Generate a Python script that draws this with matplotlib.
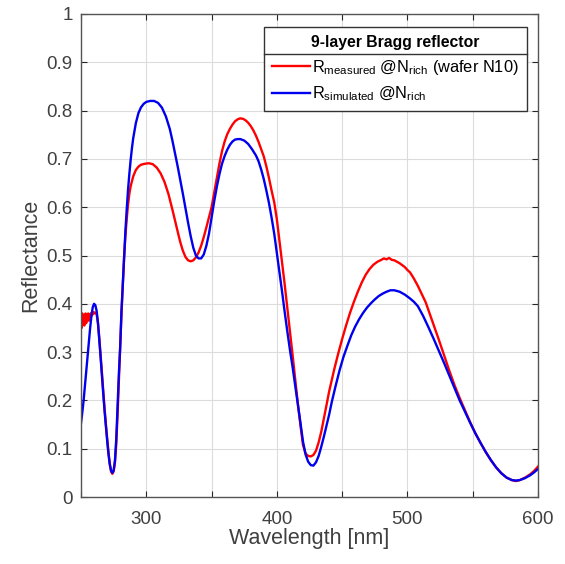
import numpy as np
import matplotlib
matplotlib.use('Agg')
from matplotlib import pyplot as plt
from matplotlib.lines import Line2D

plt.rcParams['font.family'] = ['Liberation Sans', 'DejaVu Sans']
plt.rcParams['mathtext.fontset'] = 'custom'
plt.rcParams['mathtext.rm'] = 'Liberation Sans'
plt.rcParams['mathtext.it'] = 'Liberation Sans'
plt.rcParams['xtick.direction'] = 'in'
plt.rcParams['ytick.direction'] = 'in'

#measured reflectance (red)
wl_meas = [250, 250.5, 251, 251.5, 252, 252.5, 253, 253.5, 254, 254.5, 255, 255.5, 256, 256.5,
           257, 257.5, 258, 258.5, 259, 259.5, 260, 261, 262,
           263, 264, 265, 266, 267, 268, 269, 270, 271, 272, 273, 274, 275, 276, 277, 278, 279, 280,
           281, 282, 283, 284, 285, 286, 287, 288, 290, 292, 294, 296, 299, 302, 305, 308, 311, 314,
           317, 320, 322, 324, 326, 328, 330, 332, 334, 336, 338, 340, 342, 344, 346, 348, 350, 352,
           354, 356, 358, 360, 362, 364, 366, 368, 370, 372, 374, 376, 378, 380, 382, 384, 386, 388,
           390, 392, 394, 396, 398, 400, 402, 404, 406, 408, 410, 412, 414, 416, 418, 420, 422, 424,
           426, 428, 430, 432, 434, 436, 438, 440, 442, 444, 447, 450, 453, 456, 459, 462, 465, 468,
           471, 474, 477, 480, 482, 484, 486, 488, 490, 492, 494, 496, 498, 500, 502, 505, 508, 511,
           514, 517, 520, 524, 528, 532, 536, 540, 544, 548, 552, 556, 560, 564, 568, 572, 576, 580,
           583, 586, 590, 594, 597, 600]
R_meas = [0.37, 0.35, 0.38, 0.36, 0.375, 0.355, 0.37, 0.38, 0.36, 0.375, 0.37, 0.38, 0.365, 0.378,
          0.372, 0.38, 0.375, 0.382, 0.378, 0.383, 0.38, 0.382, 0.378,
          0.36, 0.33, 0.295, 0.258, 0.22, 0.185, 0.152, 0.122, 0.094, 0.07, 0.053, 0.048, 0.053, 0.072,
          0.11, 0.17, 0.24, 0.31, 0.38, 0.44, 0.495, 0.54, 0.575, 0.605, 0.627, 0.643, 0.664, 0.677,
          0.684, 0.688, 0.69, 0.691, 0.689, 0.682, 0.67, 0.652, 0.627, 0.595, 0.572, 0.55, 0.528, 0.51,
          0.497, 0.49, 0.488, 0.49, 0.496, 0.506, 0.52, 0.538, 0.558, 0.579, 0.60, 0.63, 0.66, 0.69,
          0.716, 0.736, 0.751, 0.762, 0.771, 0.778, 0.782, 0.784, 0.783, 0.78, 0.775, 0.768, 0.759,
          0.748, 0.735, 0.72, 0.705, 0.684, 0.66, 0.634, 0.61, 0.575, 0.53, 0.485, 0.44, 0.392, 0.345,
          0.295, 0.244, 0.195, 0.15, 0.108, 0.09, 0.085, 0.084, 0.087, 0.096, 0.113, 0.135, 0.162,
          0.19, 0.218, 0.242, 0.265, 0.297, 0.327, 0.355, 0.381, 0.404, 0.425, 0.444, 0.46, 0.472,
          0.481, 0.487, 0.491, 0.494, 0.492, 0.495, 0.491, 0.490, 0.487, 0.484, 0.480, 0.476, 0.470,
          0.465, 0.452, 0.437, 0.42, 0.403, 0.38, 0.357, 0.326, 0.294, 0.262, 0.232, 0.205, 0.18,
          0.155, 0.132, 0.112, 0.093, 0.076, 0.061, 0.049, 0.04, 0.035, 0.033, 0.035, 0.04, 0.047,
          0.054, 0.063]

#simulated reflectance (blue)
wl_sim = [250, 251, 252, 253, 254, 255, 256, 257, 258, 259, 260, 261, 262, 263, 264, 265, 266, 267,
          268, 269, 270, 271, 272, 273, 274, 275, 276, 277, 278, 279, 280, 281, 282, 283, 284, 285,
          286, 287, 288, 289, 290, 292, 294, 296, 298, 300, 303, 306, 309, 312, 315, 318, 320, 322,
          324, 326, 328, 330, 332, 334, 336, 338, 340, 342, 344, 346, 348, 350, 352, 354, 356, 358,
          360, 362, 364, 366, 368, 370, 372, 375, 378, 381, 384, 386, 388, 390, 392, 394, 396, 398,
          400, 402, 404, 406, 408, 410, 412, 414, 416, 418, 420, 422, 424, 426, 428, 430, 432, 434,
          436, 438, 440, 442, 445, 448, 451, 454, 457, 460, 463, 466, 469, 472, 475, 478, 481, 484,
          487, 490, 494, 498, 502, 505, 508, 512, 516, 520, 524, 528, 532, 536, 540, 544, 548, 552,
          556, 560, 564, 568, 572, 576, 580, 583, 586, 590, 594, 597, 600]
R_sim = [0.153, 0.175, 0.20, 0.23, 0.26, 0.29, 0.32, 0.35, 0.375, 0.393, 0.40, 0.397, 0.385, 0.36,
         0.325, 0.29, 0.252, 0.215, 0.18, 0.148, 0.118, 0.09, 0.068, 0.055, 0.05, 0.055, 0.075, 0.12,
         0.19, 0.255, 0.31, 0.385, 0.44, 0.495, 0.55, 0.595, 0.635, 0.668, 0.697, 0.722, 0.743, 0.774,
         0.795, 0.807, 0.814, 0.818, 0.82, 0.82, 0.816, 0.806, 0.788, 0.762, 0.738, 0.712, 0.685,
         0.657, 0.628, 0.598, 0.568, 0.54, 0.516, 0.50, 0.494, 0.494, 0.502, 0.52, 0.545, 0.578,
         0.612, 0.642, 0.668, 0.69, 0.706, 0.719, 0.729, 0.736, 0.74, 0.741, 0.741, 0.738, 0.731,
         0.72, 0.707, 0.695, 0.678, 0.658, 0.634, 0.608, 0.578, 0.545, 0.505, 0.465, 0.425, 0.383,
         0.343, 0.305, 0.27, 0.232, 0.195, 0.155, 0.115, 0.088, 0.073, 0.066, 0.065, 0.072, 0.085,
         0.104, 0.125, 0.148, 0.17, 0.196, 0.23, 0.262, 0.29, 0.313, 0.335, 0.353, 0.368, 0.381,
         0.392, 0.401, 0.409, 0.416, 0.421, 0.425, 0.428, 0.428, 0.425, 0.419, 0.411, 0.404, 0.395,
         0.375, 0.352, 0.328, 0.303, 0.278, 0.252, 0.226, 0.2, 0.177, 0.154, 0.132, 0.112, 0.093,
         0.076, 0.061, 0.049, 0.04, 0.035, 0.034, 0.035, 0.039, 0.045, 0.051, 0.058]

legend_title = '9-layer Bragg reflector'
lbl_meas = r'R$_{\mathrm{measured}}$ @N$_{\mathrm{rich}}$ (wafer N10)'
lbl_sim = r'R$_{\mathrm{simulated}}$ @N$_{\mathrm{rich}}$'

fig = plt.figure(figsize=(5.65, 5.64), dpi=100)
ax = fig.add_axes([81/565, 1-497/564, (538-81)/565, (497-14)/564])

ax.plot(wl_meas, R_meas, color='#ff0000', lw=1.7, label=lbl_meas)
ax.plot(wl_sim, R_sim, color='#0000ee', lw=1.7, label=lbl_sim)

ax.set_xlim(250, 600)
ax.set_ylim(0, 1)
ax.set_xticks(np.arange(250, 601, 50))
ax.set_xticklabels(['' if v % 100 else str(v) for v in range(250, 601, 50)])
ax.set_yticks(np.arange(0, 1.01, 0.1))
ax.set_yticklabels(['0', '0.1', '0.2', '0.3', '0.4', '0.5', '0.6', '0.7', '0.8', '0.9', '1'])
ax.tick_params(labelsize=13.5, colors='#262626', length=4, width=0.8, top=True, right=True)
ax.tick_params(axis='x', pad=10)
ax.tick_params(axis='y', pad=6)
ax.tick_params(labelcolor='#404040')
ax.grid(True, color='#dcdcdc', lw=0.8)
ax.set_axisbelow(True)
for s in ax.spines.values():
    s.set_color('#555555')
    s.set_linewidth(1.0)

ax.set_xlabel('Wavelength [nm]', fontsize=15.5, color='#404040', labelpad=0)
ax.set_ylabel('Reflectance', fontsize=15.5, color='#404040', labelpad=4)

leg = ax.legend(loc='upper right', bbox_to_anchor=(0.976, 0.973), fontsize=11.8,
                title=legend_title, title_fontproperties={'weight': 'bold', 'size': 11.3},
                frameon=True, fancybox=False, edgecolor='#333333', framealpha=1,
                handlelength=2.3, handletextpad=0.15, borderpad=0.5, labelspacing=0.47,
                borderaxespad=0)
leg.get_frame().set_linewidth(1.0)

#separator line under legend title
fig.canvas.draw()
r = fig.canvas.get_renderer()
lb = leg.get_window_extent(r)
tb = leg.get_title().get_window_extent(r)
eb = leg.get_texts()[0].get_window_extent(r)
ysep = (tb.y0 + eb.y1) / 2
inv = fig.transFigure.inverted()
(x0, y0), (x1, _) = inv.transform([(lb.x0, ysep), (lb.x1, ysep)])
fig.add_artist(Line2D([x0, x1], [y0, y0], transform=fig.transFigure, color='#333333', lw=1.0))

fig.savefig('out.png', dpi=100)
